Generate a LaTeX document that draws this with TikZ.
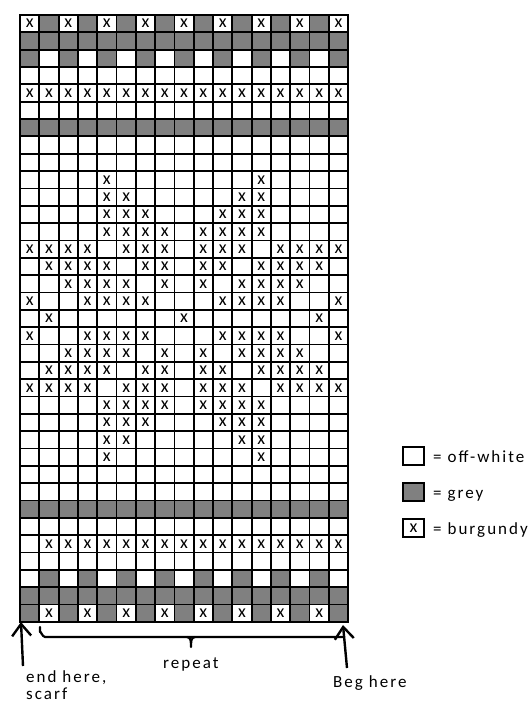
\documentclass[tikz,border=0pt]{standalone}
\usepackage{fontspec}
\setmainfont{Carlito}[LetterSpace=12]
\usetikzlibrary{arrows.meta}
\definecolor{chartGrey}{RGB}{128,128,128}

\begin{document}
\begin{tikzpicture}[
  x=1pt, y=-1pt,
  cell/.style={draw=black, line width=1.8pt, fill=#1},
  xmark/.style={font=\fontsize{18}{18}\selectfont, inner sep=0pt},
  lbl/.style={font=\fontsize{17}{17}\selectfont, inner sep=0pt},
  pointer/.style={line width=2.4pt,
                  -{Straight Barb[length=12pt, width=19pt]}},
  brace/.style={line width=2.2pt, line cap=round, line join=round},
]
\useasboundingbox (0,0) rectangle (531,704);
\def\cw{19.3}   % cell width
\def\ch{17.34}  % cell height
\def\gx{20}
\def\gy{15}
\def\cgrey{g}
\def\cburg{b}

% ---------------- chart: o = off-white, g = grey, b = burgundy ----------------
\foreach \row [count=\r] in {
  {b,g,b,g,b,g,b,g,b,g,b,g,b,g,b,g,b},
  {g,g,g,g,g,g,g,g,g,g,g,g,g,g,g,g,g},
  {g,o,g,o,g,o,g,o,g,o,g,o,g,o,g,o,g},
  {o,o,o,o,o,o,o,o,o,o,o,o,o,o,o,o,o},
  {b,b,b,b,b,b,b,b,b,b,b,b,b,b,b,b,b},
  {o,o,o,o,o,o,o,o,o,o,o,o,o,o,o,o,o},
  {g,g,g,g,g,g,g,g,g,g,g,g,g,g,g,g,g},
  {o,o,o,o,o,o,o,o,o,o,o,o,o,o,o,o,o},
  {o,o,o,o,o,o,o,o,o,o,o,o,o,o,o,o,o},
  {o,o,o,o,b,o,o,o,o,o,o,o,b,o,o,o,o},
  {o,o,o,o,b,b,o,o,o,o,o,b,b,o,o,o,o},
  {o,o,o,o,b,b,b,o,o,o,b,b,b,o,o,o,o},
  {o,o,o,o,b,b,b,b,o,b,b,b,b,o,o,o,o},
  {b,b,b,b,o,b,b,b,o,b,b,b,o,b,b,b,b},
  {o,b,b,b,b,o,b,b,o,b,b,o,b,b,b,b,o},
  {o,o,b,b,b,b,o,b,o,b,o,b,b,b,b,o,o},
  {b,o,o,b,b,b,b,o,o,o,b,b,b,b,o,o,b},
  {o,b,o,o,o,o,o,o,b,o,o,o,o,o,o,b,o},
  {b,o,o,b,b,b,b,o,o,o,b,b,b,b,o,o,b},
  {o,o,b,b,b,b,o,b,o,b,o,b,b,b,b,o,o},
  {o,b,b,b,b,o,b,b,o,b,b,o,b,b,b,b,o},
  {b,b,b,b,o,b,b,b,o,b,b,b,o,b,b,b,b},
  {o,o,o,o,b,b,b,b,o,b,b,b,b,o,o,o,o},
  {o,o,o,o,b,b,b,o,o,o,b,b,b,o,o,o,o},
  {o,o,o,o,b,b,o,o,o,o,o,b,b,o,o,o,o},
  {o,o,o,o,b,o,o,o,o,o,o,o,b,o,o,o,o},
  {o,o,o,o,o,o,o,o,o,o,o,o,o,o,o,o,o},
  {o,o,o,o,o,o,o,o,o,o,o,o,o,o,o,o,o},
  {g,g,g,g,g,g,g,g,g,g,g,g,g,g,g,g,g},
  {o,o,o,o,o,o,o,o,o,o,o,o,o,o,o,o,o},
  {o,b,b,b,b,b,b,b,b,b,b,b,b,b,b,b,b},
  {o,o,o,o,o,o,o,o,o,o,o,o,o,o,o,o,o},
  {o,g,o,g,o,g,o,g,o,g,o,g,o,g,o,g,o},
  {g,g,g,g,g,g,g,g,g,g,g,g,g,g,g,g,g},
  {g,b,g,b,g,b,g,b,g,b,g,b,g,b,g,b,g}}
{
  \foreach \cell [count=\c] in \row {
    \ifx\cell\cgrey \def\cfill{chartGrey}\else \def\cfill{white}\fi
    \draw[cell=\cfill] ({\gx+(\c-1)*\cw},{\gy+(\r-1)*\ch}) rectangle ++(\cw,\ch);
    \ifx\cell\cburg
      \node[xmark] (m\r-\c) at ({\gx+(\c-0.5)*\cw},{\gy+(\r-0.5)*\ch}) {x};
    \fi
  }
}

% ---------------- key ----------------
\foreach \i/\f/\t in {0/white/off-white, 1/chartGrey/grey, 2/white/burgundy} {
  \draw[cell=\f] (403,{447+36*\i}) rectangle ++(21,18);
  \node[lbl, anchor=base west] (key\i) at (433,{462+36*\i}) {= \t};
}
\node[xmark] (keymark) at (413.5,528) {x};

% ---------------- start / end pointers and repeat brace ----------------
\coordinate (endtip)  at (21,622);
\coordinate (endtail) at (23,666);
\coordinate (begtip)  at (343,625);
\coordinate (begtail) at (347,668);
\draw[pointer] (endtail) -- (endtip);
\draw[pointer] (begtail) -- (begtip);

\coordinate (bracel) at (40,627);
\coordinate (bracem) at (191,637);
\coordinate (bracer) at (344,637);
\draw[brace] (bracel) -- ++(0,5) to[out=90,in=180] ++(5,5) -- (bracer);
\draw[brace] ([xshift=-4pt]bracem) to[out=0,in=90] ++(4,10)
             to[out=90,in=180] ++(4,-10);

\node[lbl, anchor=base west] (replbl) at (163,668) {repeat};
\node[lbl, anchor=base west, align=left] (endlbl) at (26,699) {end here,\\scarf};
\node[lbl, anchor=base west] (beglbl) at (333,687) {Beg here};
\end{tikzpicture}
\end{document}
